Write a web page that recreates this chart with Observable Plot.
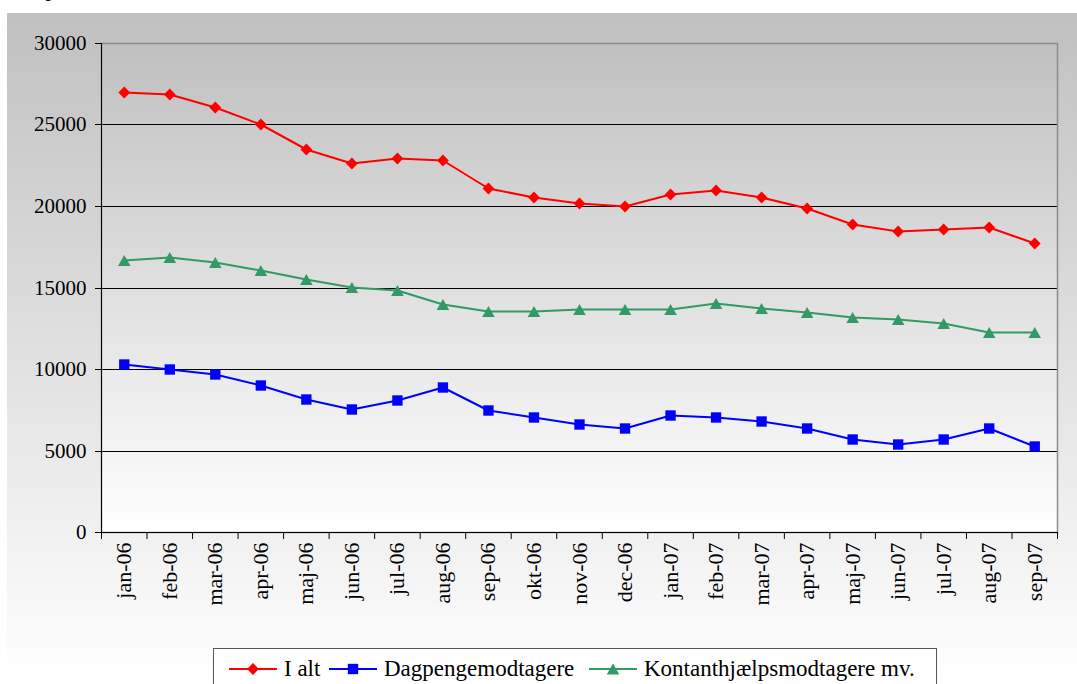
<!DOCTYPE html>
<html>
<head>
<meta charset="utf-8">
<script src="https://cdn.jsdelivr.net/npm/d3@7"></script>
<script src="https://cdn.jsdelivr.net/npm/@observablehq/plot@0.6"></script>
<style>
  html, body { margin: 0; padding: 0; background: #ffffff; }
  body { width: 1077px; height: 684px; overflow: hidden; position: relative; font-family: "Liberation Serif", "Times New Roman", serif; color: #000; }
  #cut { position: absolute; left: 47px; top: -23px; font-size: 23px; line-height: 23px; font-style: italic; }
  #chart { position: absolute; left: 7px; top: 13px; width: 1070px; height: 671px; background: linear-gradient(#c0c0c0, #ffffff); }
  #chart > svg { position: absolute; left: 0; top: 0; }
  #chart > svg text { font-family: "Liberation Serif", "Times New Roman", serif !important; }
  #legend { position: absolute; left: 206px; top: 635px; width: 724px; height: 48px; background: #ffffff; border: 1px solid #555555; box-sizing: border-box; }
  #legend .item { position: absolute; top: 6px; height: 28px; display: flex; align-items: center; font-size: 23px; white-space: nowrap; }
  #legend .item svg { position: static; margin-right: 7px; flex: none; }
</style>
</head>
<body>
<div id="cut">p</div>
<div id="chart"><div id="legend"></div></div>
<script>
const months = ["jan-06","feb-06","mar-06","apr-06","maj-06","jun-06","jul-06","aug-06","sep-06","okt-06","nov-06","dec-06","jan-07","feb-07","mar-07","apr-07","maj-07","jun-07","jul-07","aug-07","sep-07"];
const iAlt = [27000,26870,26100,25000,23480,22620,22930,22820,21120,20550,20200,20000,20750,20980,20550,19900,18900,18470,18570,18690,17710];
const dagpenge = [10310,9980,9670,9020,8140,7570,8120,8920,7460,7030,6600,6360,7160,7030,6830,6380,5720,5400,5720,6380,5280];
const kontant = [16690,16890,16580,16070,15520,15050,14850,13970,13580,13560,13660,13660,13660,14070,13760,13520,13170,13090,12840,12290,12290];
const seriesNames = ["I alt", "Dagpengemodtagere", "Kontanthjælpsmodtagere mv."];
const yTicks = [0, 5000, 10000, 15000, 20000, 25000, 30000];
const gridValues = [5000, 10000, 15000, 20000, 25000];

const styles = [
  {color: "#ff0000", symbol: "diamond2", r: 5.3, dy: 0},
  {color: "#0000ff", symbol: "square2", r: 6.6, dy: 0},
  {color: "#339966", symbol: "triangle2", r: 6, dy: 1.8}
];
const seriesValues = [iAlt, dagpenge, kontant];
const data = [];
seriesValues.forEach((vals, s) => vals.forEach((v, i) => data.push({series: seriesNames[s], month: months[i], value: v})));

const W = 1070, H = 627, mL = 94, mR = 20, mT = 30, mB = 108;
const bw = (W - mL - mR) / months.length;
const plotH = H - mT - mB;
const serif = "'Liberation Serif', 'Times New Roman', serif";

const marks = [
  Plot.frame({fill: "url(#plotBg)"}),
  Plot.ruleY(gridValues, {stroke: "#000000", strokeWidth: 1}),
  Plot.frame({stroke: "#8c8c8c", strokeWidth: 1.5}),
  Plot.ruleY([0], {stroke: "#000000", strokeWidth: 1}),
  Plot.ruleX([months[0]], {dx: -bw / 2, stroke: "#000000", strokeWidth: 1}),
  Plot.ruleX(months, {dx: -bw / 2, insetTop: plotH, insetBottom: -7, stroke: "#000000"}),
  Plot.ruleX([months[months.length - 1]], {dx: bw / 2, insetTop: plotH, insetBottom: -7, stroke: "#000000"}),
  Plot.axisY({ticks: yTicks, tickSize: 6, tickPadding: 9, fontSize: 21, fontFamily: serif, tickFormat: d => String(d), stroke: "#000000", fill: "#000000"}),
  Plot.axisX({tickSize: 0, tickRotate: -90, tickPadding: 10, fontSize: 22, fontFamily: serif, fill: "#000000"})
];
seriesNames.forEach((name, s) => {
  const sub = data.filter(d => d.series === name);
  marks.push(Plot.line(sub, {x: "month", y: "value", stroke: styles[s].color, strokeWidth: 2}));
  marks.push(Plot.dot(sub, {x: "month", y: "value", symbol: () => styles[s].symbol, fill: styles[s].color, stroke: "none", r: styles[s].r, dy: styles[s].dy}));
});

const chart = Plot.plot({
  width: W, height: H,
  marginLeft: mL, marginRight: mR, marginTop: mT, marginBottom: mB,
  style: {background: "transparent", fontFamily: serif, color: "#000000", overflow: "visible"},
  x: {type: "band", domain: months, padding: 0, round: false, label: null},
  y: {domain: [0, 30000], round: true, label: null},
  symbol: {type: "identity"},
  marks
});
const svg = chart.tagName.toLowerCase() === "svg" ? chart : chart.querySelector("svg");
d3.select(svg).insert("defs", ":first-child").html(
  '<linearGradient id="plotBg" x1="0" y1="0" x2="0" y2="1"><stop offset="0" stop-color="#c0c0c0"/><stop offset="1" stop-color="#ffffff"/></linearGradient>'
);
document.getElementById("chart").insertBefore(chart, document.getElementById("legend"));

// Legend
const legend = d3.select("#legend");
const lefts = [15, 115, 375];
const symMap = {diamond2: d3.symbolDiamond2, square2: d3.symbolSquare2, triangle2: d3.symbolTriangle2};
seriesNames.forEach((name, s) => {
  const item = legend.append("div").attr("class", "item").style("left", lefts[s] + "px");
  const sw = item.append("svg").attr("width", 48).attr("height", 20);
  sw.append("line").attr("x1", 0).attr("x2", 48).attr("y1", 10).attr("y2", 10).attr("stroke", styles[s].color).attr("stroke-width", 2);
  sw.append("path")
    .attr("d", d3.symbol(symMap[styles[s].symbol], Math.PI * styles[s].r * styles[s].r)())
    .attr("transform", `translate(24,${10 + styles[s].dy})`)
    .attr("fill", styles[s].color);
  item.append("span").text(name);
});
</script>
</body>
</html>
